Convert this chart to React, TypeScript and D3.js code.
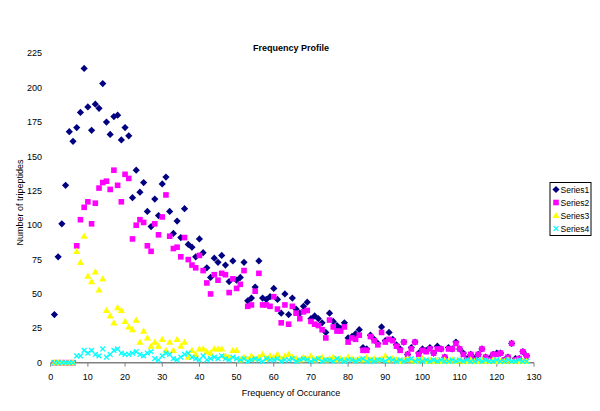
import React from "react";
import * as d3 from "d3";

const freq = [
  1, 2, 3, 4, 5, 6, 7, 8, 9, 10, 11, 12, 13, 14, 15, 16, 17, 18, 19, 20,
  21, 22, 23, 24, 25, 26, 27, 28, 29, 30, 31, 32, 33, 34, 35, 36, 37, 38, 39, 40,
  41, 42, 43, 44, 45, 46, 47, 48, 49, 50, 51, 52, 53, 54, 55, 56, 57, 58, 59, 60,
  61, 62, 63, 64, 65, 66, 67, 68, 69, 70, 71, 72, 73, 74, 75, 76, 77, 78, 79, 80,
  81, 82, 83, 84, 85, 86, 87, 88, 89, 90, 91, 92, 93, 94, 95, 96, 97, 98, 99, 100,
  101, 102, 103, 104, 105, 106, 107, 108, 109, 110, 111, 112, 113, 114, 115, 116, 117, 118, 119, 120,
  121, 122, 123, 124, 125, 126, 127, 128,
];

const series1 = [
  35, 77, 101, 129, 168, 161, 171, 182, 214, 186, 169, 188, 185, 203, 175, 166, 179, 180, 162, 171,
  165, 120, 140, 124, 131, 110, 99, 119, 107, 130, 135, 110, 94, 103, 91, 112, 86, 84, 77, 90,
  80, 69, 62, 76, 73, 78, 71, 59, 74, 60, 62, 73, 45, 47, 55, 74, 47, 46, 48, 54,
  46, 36, 50, 35, 47, 39, 36, 41, 44, 32, 34, 32, 29, 22, 36, 30, 27, 25, 29, 18,
  19, 21, 24, 11, 10, 20, 17, 14, 26, 16, 22, 17, 13, 10, 15, 6, 11, 15, 7, 10,
  9, 11, 7, 12, 10, 4, 11, 10, 15, 10, 7, 3, 6, 3, 6, 10, 4, 3, 6, 7,
  7, 2, 4, 14, 3, 3, 8, 5,
];

const series2 = [
  0, 0, 0, 0, 0, 0, 85, 104, 113, 117, 101, 116, 127, 131, 132, 126, 140, 129, 117, 137,
  134, 90, 100, 104, 102, 85, 81, 101, 93, 106, 122, 92, 83, 84, 77, 91, 75, 71, 69, 78,
  67, 58, 50, 64, 60, 65, 64, 51, 61, 54, 57, 67, 41, 42, 52, 65, 42, 42, 41, 48,
  39, 29, 42, 28, 41, 36, 32, 37, 38, 30, 28, 27, 24, 18, 31, 26, 23, 23, 26, 15,
  18, 17, 20, 9, 9, 19, 16, 13, 22, 15, 17, 16, 12, 9, 15, 6, 10, 15, 6, 9,
  8, 10, 7, 10, 10, 4, 10, 10, 14, 10, 6, 2, 6, 2, 6, 10, 4, 2, 6, 6,
  7, 2, 4, 14, 2, 3, 8, 5,
];

const series3 = [
  0, 0, 0, 0, 0, 0, 81, 73, 92, 63, 59, 66, 53, 61, 38, 34, 29, 40, 38, 30,
  26, 24, 31, 15, 23, 18, 12, 15, 12, 17, 9, 15, 9, 17, 12, 15, 4, 9, 6, 10,
  10, 8, 7, 10, 10, 10, 5, 4, 9, 9, 2, 4, 3, 5, 3, 4, 6, 3, 5, 4,
  6, 3, 5, 6, 4, 3, 2, 4, 3, 5, 2, 3, 4, 2, 3, 4, 2, 3, 2, 4,
  3, 2, 3, 2, 4, 2, 3, 2, 3, 5, 2, 3, 2, 1, 2, 3, 2, 1, 2, 3,
  1, 2, 1, 2, 1, 2, 1, 2, 1, 2, 1, 1, 2, 1, 1, 2, 1, 1, 2, 1,
  1, 1, 2, 1, 1, 1, 1, 1,
];

const series4 = [
  0, 0, 0, 0, 0, 0, 5, 5, 9, 7, 9, 6, 5, 10, 4, 6, 9, 10, 7, 6,
  6, 7, 8, 6, 5, 7, 8, 3, 2, 5, 7, 6, 3, 2, 4, 6, 7, 4, 3, 2,
  5, 2, 3, 4, 3, 5, 3, 2, 4, 3, 2, 3, 1, 2, 3, 2, 1, 3, 2, 2,
  3, 1, 2, 2, 3, 1, 2, 3, 2, 1, 2, 3, 1, 2, 2, 1, 3, 2, 1, 2,
  2, 1, 2, 3, 1, 2, 1, 2, 2, 1, 3, 2, 1, 2, 1, 2, 3, 1, 2, 1,
  2, 1, 2, 1, 2, 1, 1, 2, 1, 2, 1, 2, 1, 1, 2, 1, 2, 1, 1, 2,
  1, 1, 2, 1, 1, 2, 1, 1,
];

const seriesNames = ["Series1", "Series2", "Series3", "Series4"];
const seriesColors = ["#000080", "#FF00FF", "#FFFF00", "#00FFFF"];
const yTicks = [0, 25, 50, 75, 100, 125, 150, 175, 200, 225];
const xTicks = [0, 10, 20, 30, 40, 50, 60, 70, 80, 90, 100, 110, 120, 130];

const FONT = "Arial, 'Liberation Sans', sans-serif";

function Marker({ kind, cx, cy, color }: { kind: number; cx: number; cy: number; color: string }) {
  if (kind === 0) {
    const r = 3.6;
    return <path d={`M${cx},${cy - r}L${cx + r},${cy}L${cx},${cy + r}L${cx - r},${cy}Z`} fill={color} />;
  }
  if (kind === 1) {
    const s = 5.6;
    return <rect x={cx - s / 2} y={cy - s / 2} width={s} height={s} fill={color} />;
  }
  if (kind === 2) {
    const w = 3.6;
    return <path d={`M${cx},${cy - 3.6}L${cx + w},${cy + 2.6}L${cx - w},${cy + 2.6}Z`} fill={color} />;
  }
  const r = 2.4;
  return (
    <path
      d={`M${cx - r},${cy - r}L${cx + r},${cy + r}M${cx + r},${cy - r}L${cx - r},${cy + r}`}
      stroke={color}
      strokeWidth={1.3}
      fill="none"
    />
  );
}

export default function App() {
  const x = d3.scaleLinear().domain([0, 130]).range([50.7, 534]);
  const y = d3.scaleLinear().domain([0, 225]).range([362.7, 53.3]);
  const all = [series1, series2, series3, series4];
  const y0 = y(0);

  return (
    <svg
      width={600}
      height={411}
      style={{ position: "absolute", left: 0, top: 0, background: "#fff" }}
      fontFamily={FONT}
    >
      <rect x={0} y={0} width={600} height={411} fill="#fff" />
      <text x={291} y={51} textAnchor="middle" fontSize={9} fontWeight="bold" fill="#000">
        Frequency Profile
      </text>

      {yTicks.map((t) => (
        <text key={t} x={42} y={y(t)} dy="0.35em" textAnchor="end" fontSize={9} fill="#000">
          {t}
        </text>
      ))}

      <line x1={x(0)} x2={x(130)} y1={y0} y2={y0} stroke="#808080" strokeWidth={1.5} />
      {xTicks.map((t) => (
        <g key={t}>
          <line x1={x(t)} x2={x(t)} y1={y0} y2={y0 + 4} stroke="#808080" strokeWidth={1} />
          <text x={x(t)} y={380} textAnchor="middle" fontSize={9} fill="#000">
            {t}
          </text>
        </g>
      ))}

      <text x={291} y={396} textAnchor="middle" fontSize={9} fill="#000">
        Frequency of Occurance
      </text>
      <text
        transform={`translate(23,202.5) rotate(-90)`}
        textAnchor="middle"
        fontSize={9}
        fill="#000"
      >
        Number of tripeptides
      </text>

      {all.map((s, si) => (
        <g key={si}>
          {s.map((v, i) => (
            <Marker key={i} kind={si} cx={x(freq[i])} cy={y(v)} color={seriesColors[si]} />
          ))}
        </g>
      ))}

      <rect x={550} y={182.5} width={41} height={53} fill="#fff" stroke="#000" strokeWidth={1} />
      {seriesNames.map((n, i) => {
        const cy = 189.5 + i * 13;
        return (
          <g key={n}>
            <Marker kind={i} cx={556} cy={cy} color={seriesColors[i]} />
            <text x={560.5} y={cy + 3} fontSize={8.5} fill="#000">
              {n}
            </text>
          </g>
        );
      })}
    </svg>
  );
}
